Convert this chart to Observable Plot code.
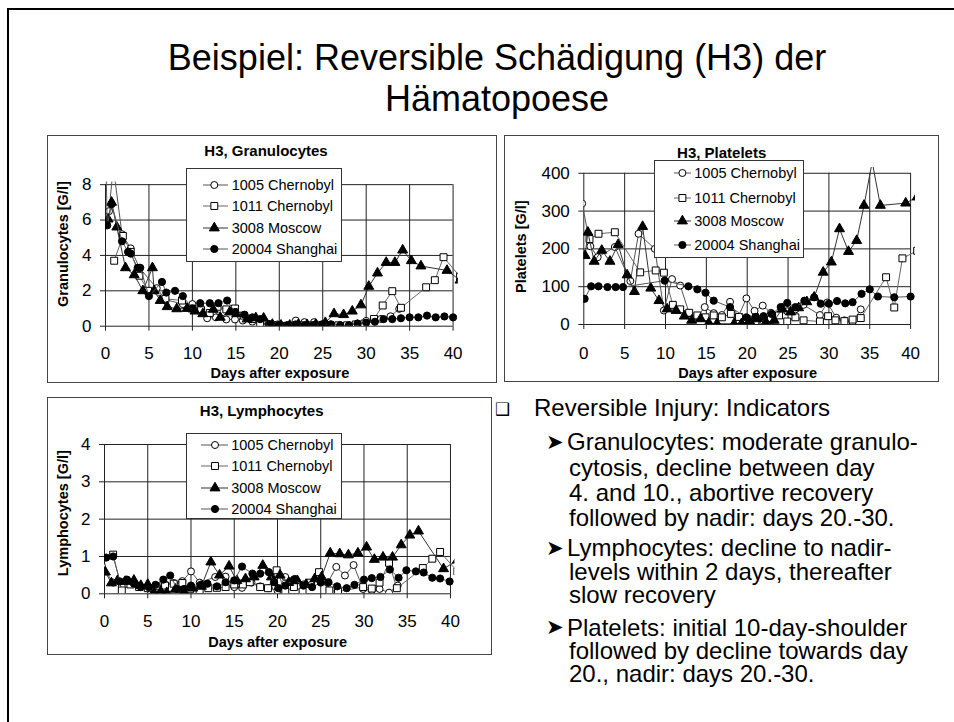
<!DOCTYPE html>
<html><head><meta charset="utf-8">
<script src="https://cdn.jsdelivr.net/npm/d3@7"></script>
<script src="https://cdn.jsdelivr.net/npm/@observablehq/plot@0.6"></script>
<style>
body{margin:0;background:#fff;font-family:"Liberation Sans",Arial,Helvetica,sans-serif;color:#000;}
#slide{position:relative;width:954px;height:722px;overflow:hidden;background:#fff;}
.frame{position:absolute;left:7px;top:8px;width:1000px;height:800px;border-left:2px solid #000;border-top:2px solid #000;}
.title{position:absolute;left:0;width:994px;text-align:center;font-size:36px;line-height:36px;white-space:nowrap;}
.box{position:absolute;box-sizing:border-box;border:1px solid #444;background:#fff;}
.box svg{position:absolute;left:0;top:0;}
.ctitle{position:absolute;font-weight:bold;font-size:15px;line-height:15px;transform:translate(-50%,-50%);white-space:nowrap;}
.legend{position:absolute;box-sizing:border-box;border:1px solid #333;background:#fff;}
.lrow{position:absolute;left:0;height:16px;transform:translateY(-50%);width:100%;}
.lrow svg{position:absolute;left:0;top:0;}
.lrow span{position:absolute;top:0;font-size:14.5px;line-height:16px;white-space:nowrap;}
.bl{position:absolute;font-size:24px;white-space:nowrap;}
.sym{position:absolute;font-family:"DejaVu Sans",sans-serif;line-height:1;transform:translateY(-50%);}
</style>
</head><body>
<div id="slide">
  <div class="frame"></div>
  <div class="title" style="top:40px">Beispiel: Reversible Schädigung (H3) der</div>
  <div class="title" style="top:81px">Hämatopoese</div>
</div>
<script>
// ---------- data ----------
const seriesNames = ["1005 Chernobyl", "1011 Chernobyl", "3008 Moscow", "20004 Shanghai"];
const xTicks = [0, 5, 10, 15, 20, 25, 30, 35, 40];
const granTicks = [0, 2, 4, 6, 8];
const pltTicks = [0, 100, 200, 300, 400];
const lymTicks = [0, 1, 2, 3, 4];

// Granulocytes [G/l]  (day, value)
const gran1005 = [[0.4,6.5],[0.9,9.0],[1.9,5.2],[2.9,4.4],[3.9,3.3],[5.9,2.15],[6.9,1.5],[8.9,1.25],[10.0,1.25],[11.0,1.0],[11.7,0.45],[12.7,0.5],[13.9,0.38],[14.9,0.38],[15.8,0.32],[16.9,0.26],[17.8,0.2],[18.8,0.1],[19.8,0.1],[20.9,0.05],[21.9,0.32],[22.9,0.23],[24.0,0.23],[25.0,0.1],[26.0,0.1],[27.0,0.05],[28.0,0.05],[29.0,0.15],[30.0,0.3],[31.0,0.35],[31.7,0.41],[32.8,0.56],[33.8,0.98]];
const gran1011 = [[1.0,3.7],[2.0,5.1],[2.9,4.2],[3.9,2.85],[4.9,2.0],[6.9,1.55],[8.8,1.45],[9.9,1.0],[11.0,0.9],[12.0,0.75],[12.9,1.1],[13.9,0.95],[14.9,1.0],[15.9,0.6],[16.9,0.4],[17.8,0.1],[18.8,0.1],[19.8,0.05],[20.8,0.02],[21.8,0.05],[22.8,0.05],[23.8,0.05],[24.8,0.05],[25.8,0.05],[26.8,0.05],[27.8,0.05],[28.8,0.1],[29.8,0.15],[30.9,0.41],[31.9,1.17],[33.0,1.98],[34.0,1.04],[36.9,2.2],[37.9,2.6],[38.9,3.9],[40.8,2.8]];
const gran3008 = [[0.3,6.05],[0.7,7.0],[1.3,5.6],[2.3,3.3],[3.3,2.9],[4.3,2.0],[5.4,3.3],[5.6,2.0],[6.3,1.45],[7.1,1.1],[8.2,0.98],[9.4,1.0],[10.3,0.85],[11.2,0.7],[12.4,0.95],[13.2,0.5],[14.3,0.8],[15.1,0.7],[16.3,0.4],[17.3,0.47],[18.2,0.45],[19.2,0.1],[20.2,0.05],[21.2,0.05],[22.2,0.1],[23.2,0.08],[24.2,0.1],[25.3,0.2],[26.3,0.7],[27.4,0.65],[28.4,0.85],[29.4,1.2],[30.3,2.25],[31.3,3.0],[32.3,3.6],[33.3,3.6],[34.2,4.3],[35.2,3.7],[36.3,3.4],[39.3,3.15],[40.8,2.6]];
const gran20004 = [[0.0,10.5],[0.2,5.7],[0.7,6.9],[1.9,4.8],[2.6,4.2],[2.9,4.1],[3.7,3.3],[4.0,3.3],[5.0,1.7],[6.5,2.5],[7.0,1.9],[8.0,2.0],[8.9,1.7],[10.0,1.0],[10.9,1.3],[12.0,1.3],[13.0,1.3],[14.0,1.45],[14.9,0.8],[16.0,0.65],[16.9,0.5],[17.8,0.4],[18.9,0.1],[19.9,0.05],[20.9,0.05],[21.9,0.1],[22.9,0.05],[23.9,0.05],[24.9,0.1],[25.9,0.1],[27.0,0.05],[28.0,0.05],[29.0,0.15],[30.0,0.2],[31.0,0.25],[32.0,0.4],[33.0,0.4],[34.0,0.45],[35.0,0.5],[36.0,0.5],[37.0,0.6],[38.0,0.5],[39.0,0.55],[40.0,0.5]];

// Platelets [G/l]
const plt1005 = [[-0.2,320],[0.8,207],[1.7,178],[3.8,205],[5.7,115],[6.7,240],[8.7,200],[9.8,37],[10.8,120],[11.8,103],[12.9,30],[13.9,20],[14.8,46],[15.9,30],[16.9,25],[17.9,60],[18.9,20],[19.9,69],[20.9,36],[21.9,50],[22.9,31],[23.9,25],[24.9,35],[25.9,40],[26.9,52],[28.9,25],[29.8,58],[30.9,18],[31.9,11],[32.9,6],[33.9,40]];
const plt1011 = [[0.7,226],[1.8,240],[3.8,244],[6.9,138],[8.8,143],[9.8,137],[10.9,52],[11.8,40],[12.9,31],[13.9,24],[14.9,19],[15.9,24],[16.9,19],[18.0,28],[19.0,20],[20.0,13],[21.0,8],[22.0,6],[22.9,13],[23.9,24],[24.9,8],[25.9,19],[26.9,11],[28.9,8],[29.9,22],[30.8,11],[31.9,9],[32.9,13],[33.9,17],[37.0,125],[38.0,45],[39.0,175],[40.8,195]];
const plt3008 = [[0.16,182],[0.5,244],[1.27,167],[2.2,196],[3.2,167],[4.2,211],[5.3,131],[6.2,87],[7.2,259],[8.2,96],[9.2,63],[10.2,41],[11.3,37],[12.3,22],[13.2,11],[14.3,15],[15.3,4],[16.3,2],[18.4,2],[19.3,2],[20.3,10],[21.3,15],[22.3,6],[23.3,11],[24.3,41],[25.3,33],[26.3,44],[27.3,60],[28.2,72],[29.3,138],[30.3,165],[31.3,253],[32.4,193],[33.4,222],[34.3,315],[35.3,430],[36.3,315],[39.4,321],[40.8,337]];
const plt20004 = [[0.1,68],[0.9,101],[1.8,101],[2.9,99],[3.9,99],[4.8,99],[9.9,116],[12.8,101],[13.9,93],[14.9,84],[15.9,63],[17.9,46],[19.9,19],[21.0,20],[22.0,22],[23.0,28],[24.1,46],[24.9,57],[25.9,46],[27.0,63],[28.2,72],[29.0,55],[30.0,55],[31.0,62],[32.0,56],[32.9,59],[34.0,81],[35.0,93],[36.0,74],[38.0,72],[40.0,74]];

// Lymphocytes [G/l]
const lym1005 = [[-0.3,0.75],[1.0,0.3],[2.0,0.2],[3.0,0.3],[4.0,0.2],[5.0,0.15],[6.0,0.22],[7.0,0.25],[8.0,0.29],[9.0,0.34],[10.0,0.6],[11.0,0.3],[12.8,0.45],[14.0,0.46],[15.0,0.18],[15.9,0.16],[17.0,0.3],[18.0,0.2],[19.0,0.15],[20.0,0.09],[20.9,0.45],[22.0,0.4],[23.0,0.25],[23.9,0.29],[24.8,0.56],[25.8,0.29],[26.8,0.72],[27.8,0.49],[28.8,0.77],[29.9,0.13],[30.9,0.1],[31.8,0.13],[32.9,0.03],[33.9,0.22]];
const lym1011 = [[1.0,1.05],[2.0,0.09],[3.0,0.25],[4.0,0.18],[5.0,0.15],[6.0,0.2],[7.0,0.22],[8.0,0.27],[9.0,0.29],[9.9,0.12],[11.0,0.1],[12.0,0.15],[13.0,0.16],[14.0,0.18],[15.0,0.25],[16.0,0.25],[16.8,0.31],[18.0,0.18],[18.9,0.15],[19.9,0.63],[20.9,0.07],[21.9,0.18],[22.9,0.06],[23.8,0.3],[24.8,0.58],[26.0,0.09],[27.0,0.06],[29.9,0.18],[30.9,0.14],[31.8,0.3],[32.9,0.83],[33.8,0.15],[36.8,0.69],[37.9,0.94],[38.8,1.12],[40.8,0.6]];
const lym3008 = [[0.1,0.58],[0.8,0.29],[1.5,0.35],[2.4,0.33],[3.4,0.36],[4.2,0.22],[5.0,0.25],[5.7,0.03],[6.5,0.06],[7.2,0.03],[8.2,0.12],[9.2,0.05],[10.2,0.15],[11.2,0.2],[12.3,0.85],[13.3,0.5],[14.4,0.74],[15.3,0.35],[16.3,0.4],[17.3,0.45],[18.3,0.76],[19.3,0.45],[20.3,0.5],[21.3,0.3],[22.3,0.35],[23.3,0.25],[24.3,0.4],[25.1,0.45],[26.1,1.09],[27.2,1.07],[28.2,1.04],[29.3,1.09],[30.3,1.25],[31.2,0.92],[32.2,0.98],[33.3,0.98],[34.3,1.31],[35.3,1.57],[36.3,1.68],[39.2,0.67],[40.8,0.9]];
const lym20004 = [[0.2,0.97],[1.0,1.0],[1.8,0.33],[2.6,0.38],[3.4,0.27],[4.2,0.18],[5.1,0.18],[5.9,0.24],[6.8,0.38],[7.6,0.49],[8.4,0.13],[9.2,0.13],[10.0,0.22],[11.1,0.24],[11.9,0.27],[13.0,0.2],[14.0,0.31],[15.0,0.36],[15.9,0.73],[17.1,0.54],[18.0,0.54],[19.0,0.58],[19.6,0.31],[20.1,0.15],[20.9,0.22],[21.9,0.38],[23.0,0.22],[24.0,0.18],[25.0,0.3],[25.9,0.31],[26.9,0.2],[28.0,0.15],[28.9,0.24],[30.0,0.38],[30.9,0.42],[31.9,0.45],[33.0,0.65],[34.0,0.43],[34.9,0.63],[36.0,0.6],[36.9,0.57],[37.9,0.43],[38.8,0.41],[39.9,0.33]];

// ---------- styles ----------
const FONT = '"Liberation Sans", Arial, Helvetica, sans-serif';
const seriesStyle = [
  {symbol: "circle",   fill: "white", r: 3.5, line: "#555"},
  {symbol: "square",   fill: "white", r: 3.9, line: "#666"},
  {symbol: "triangle", fill: "black", r: 3.7, line: "#333"},
  {symbol: "circle",   fill: "black", r: 3.6, line: "#555"}
];
const d3sym = {circle: d3.symbolCircle, square: d3.symbolSquare, triangle: d3.symbolTriangle};

function makeChart(o) {
  const slide = document.getElementById("slide");
  const box = document.createElement("div");
  box.className = "box";
  Object.assign(box.style, {left: o.left + "px", top: o.top + "px", width: o.w + "px", height: o.h + "px"});
  slide.appendChild(box);
  const iw = o.w - 2, ih = o.h - 2;
  const tables = o.series.map((s, i) => s.map(([day, value]) => ({day, value, name: seriesNames[i]})));
  const marks = [
    Plot.ruleX(xTicks, {x: d => d, y1: 0, y2: o.yTicks[o.yTicks.length - 1], stroke: "#222", strokeWidth: 1}),
    Plot.ruleY(o.yTicks, {y: d => d, x1: 0, x2: 40, stroke: "#222", strokeWidth: 1}),
    Plot.axisX(xTicks, {tickSize: 5, tickPadding: o.xPad, label: null, fontSize: 17, stroke: "#222"}),
    Plot.axisY(o.yTicks, {tickSize: 5, tickPadding: 9, label: null, fontSize: 17, stroke: "#222"})
  ];
  tables.forEach((t, i) => {
    const st = seriesStyle[i];
    marks.push(Plot.line(t, {x: "day", y: "value", stroke: st.line, strokeWidth: 1, clip: true}));
    marks.push(Plot.dot(t, {x: "day", y: "value", symbol: st.symbol, r: st.r, fill: st.fill, stroke: "black", strokeWidth: 1, clip: true}));
  });
  marks.push(Plot.text(["Days after exposure"], {frameAnchor: "bottom", dy: o.xLabDy, dx: -2, fontWeight: "bold", fontSize: 14.5, lineAnchor: "middle", textAnchor: "middle"}));
  marks.push(Plot.text([o.ylabel], {frameAnchor: "left", dx: o.yLabDx, dy: o.yLabDy, rotate: -90, fontWeight: "bold", fontSize: 14.5, lineAnchor: "middle", textAnchor: "middle"}));
  const svg = Plot.plot({
    width: iw, height: ih,
    marginLeft: o.ml, marginRight: o.mr, marginTop: o.mt, marginBottom: o.mb,
    style: {fontFamily: FONT, background: "transparent", color: "#000", fontSize: "16px", overflow: "visible"},
    x: {domain: [0, o.xMax]},
    y: {domain: [0, o.yMax]},
    marks
  });
  box.appendChild(svg);
  // chart title
  const t = document.createElement("div");
  t.className = "ctitle";
  t.textContent = o.title;
  Object.assign(t.style, {left: o.titleX + "px", top: o.titleY + "px"});
  box.appendChild(t);
  // legend
  const L = o.legend;
  const lg = document.createElement("div");
  lg.className = "legend";
  Object.assign(lg.style, {left: L.left + "px", top: L.top + "px", width: L.w + "px", height: L.h + "px"});
  box.appendChild(lg);
  seriesNames.forEach((name, i) => {
    const st = seriesStyle[i];
    const row = document.createElement("div");
    row.className = "lrow";
    row.style.top = L.rows[i] + "px";
    const s = d3.create("svg").attr("width", L.textX).attr("height", 16);
    s.append("line").attr("x1", L.x1).attr("x2", L.x2).attr("y1", 8).attr("y2", 8).attr("stroke", st.line).attr("stroke-width", 1);
    s.append("path").attr("transform", `translate(${L.mx},8)`)
      .attr("d", d3.symbol(d3sym[st.symbol], Math.PI * st.r * st.r)())
      .attr("fill", st.fill).attr("stroke", "black").attr("stroke-width", 1);
    row.appendChild(s.node());
    const sp = document.createElement("span");
    sp.textContent = name;
    sp.style.left = L.textX + "px";
    row.appendChild(sp);
    lg.appendChild(row);
  });
}

makeChart({
  left: 47, top: 135, w: 450, h: 248,
  ml: 57, mr: 38.2, mt: 45.5, mb: 56.3, xMax: 40.6, yMax: 8.15,
  yTicks: granTicks, xPad: 16, xLabDy: 47.6, yLabDx: -42, yLabDy: -10,
  ylabel: "Granulocytes [G/l]", title: "H3, Granulocytes", titleX: 218, titleY: 14,
  series: [gran1005, gran1011, gran3008, gran20004],
  legend: {left: 137.7, top: 32.3, w: 156, h: 93.4, rows: [15.7, 37.2, 58.7, 80.2], x1: 16, x2: 41, mx: 27.3, textX: 45}
});

makeChart({
  left: 504, top: 135, w: 435, h: 247,
  ml: 78.3, mr: 23, mt: 31.1, mb: 57, xMax: 40.6, yMax: 415,
  yTicks: pltTicks, xPad: 17.5, xLabDy: 49.3, yLabDx: -62.6, yLabDy: 0.6,
  ylabel: "Platelets [G/l]", title: "H3, Platelets", titleX: 216.7, titleY: 15.7,
  series: [plt1005, plt1011, plt3008, plt20004],
  legend: {left: 149.3, top: 24, w: 150, h: 97.7, rows: [12.3, 36.7, 60, 84.3], x1: 19, x2: 36, mx: 27.4, textX: 39}
});

makeChart({
  left: 47, top: 397, w: 445, h: 258,
  ml: 56, mr: 36.7, mt: 46, mb: 60.7, xMax: 40.5, yMax: 4,
  yTicks: lymTicks, xPad: 16, xLabDy: 48.7, yLabDx: -40.7, yLabDy: -6,
  ylabel: "Lymphocytes [G/l]", title: "H3, Lymphocytes", titleX: 213.7, titleY: 12,
  series: [lym1005, lym1011, lym3008, lym20004],
  legend: {left: 137.7, top: 34.7, w: 156, h: 86.3, rows: [11.3, 32.6, 54.3, 75.8], x1: 14, x2: 41, mx: 28, textX: 44.5}
});

// ---------- bullet text (one block per paragraph) ----------
const headline = "Reversible Injury: Indicators";
const paragraphs = [
  {y: 442, lh: 25.3, lines: ["Granulocytes: moderate granulo-", "cytosis, decline between day", "4. and 10., abortive recovery", "followed by nadir: days 20.-30."]},
  {y: 548, lh: 23.5, lines: ["Lymphocytes: decline to nadir-", "levels within 2 days, thereafter", "slow recovery"]},
  {y: 627, lh: 23, lines: ["Platelets: initial 10-day-shoulder", "followed by decline towards day", "20., nadir: days 20.-30."]}
];
const slide = document.getElementById("slide");
const hd = document.createElement("div");
hd.className = "bl";
hd.textContent = headline;
Object.assign(hd.style, {left: "534px", top: (408 - 12) + "px", lineHeight: "24px"});
slide.appendChild(hd);
paragraphs.forEach(p => {
  const d = document.createElement("div");
  d.className = "bl";
  Object.assign(d.style, {left: "569px", top: (p.y - p.lh / 2) + "px", lineHeight: p.lh + "px", textIndent: "-2px"});
  p.lines.forEach((ln, i) => {
    if (i) d.appendChild(document.createElement("br"));
    d.appendChild(document.createTextNode(ln));
  });
  slide.appendChild(d);
  const a = document.createElement("div");
  a.className = "sym"; a.textContent = "➤";
  Object.assign(a.style, {left: "546px", top: p.y + "px", fontSize: "21px"});
  slide.appendChild(a);
});
const box = document.createElement("div");
box.className = "sym"; box.textContent = "❑";
Object.assign(box.style, {left: "495px", top: "409px", fontSize: "17px"});
slide.appendChild(box);
</script>
</body></html>
